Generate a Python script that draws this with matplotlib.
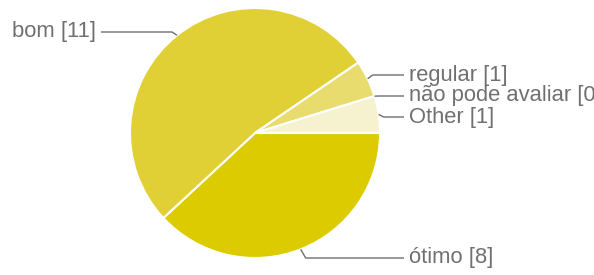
import numpy as np
import matplotlib.pyplot as plt

# data
labels = ["ótimo", "bom", "regular", "não pode avaliar", "Other"]
counts = [8, 11, 1, 0, 1]
colors = ["#dccb00", "#e0d035", "#e8dc6e", "#f2ebb0", "#f6f1cf"]

# label placement (pixels, y down)
label_x = [409, 96, 409, 409, 409]
label_y = [258, 32, 75, 96, 117]
side = [1, -1, 1, 1, 1]

W, H = 594, 275
cx, cy, r = 255, 133, 125

fig = plt.figure(figsize=(W / 100, H / 100), dpi=100)
ax = fig.add_axes([0, 0, 1, 1])

wedges, _ = ax.pie(counts, colors=colors, startangle=0, counterclock=True,
                   center=(cx, cy), radius=r,
                   wedgeprops=dict(edgecolor="white", linewidth=1.5))
ax.set_xlim(0, W)
ax.set_ylim(H, 0)
ax.set_aspect("equal")
ax.axis("off")

for w, name, n, lx, ly, s in zip(wedges, labels, counts, label_x, label_y, side):
    mid = np.deg2rad((w.theta1 + w.theta2) / 2)
    # y axis is inverted, so data angles already run clockwise on screen
    px = cx + r * np.cos(mid)
    py = cy + r * np.sin(mid)
    ex = px + s * 5
    ax.plot([px, ex, lx - s * 5], [py, ly, ly], color="#6e6e6e", lw=1,
            solid_capstyle="butt")
    ax.text(lx, ly, f"{name} [{n}]", ha="left" if s > 0 else "right",
            va="center", fontsize=15.8, color="#707070",
            family="Liberation Sans")

fig.savefig("out.png", dpi=100)
